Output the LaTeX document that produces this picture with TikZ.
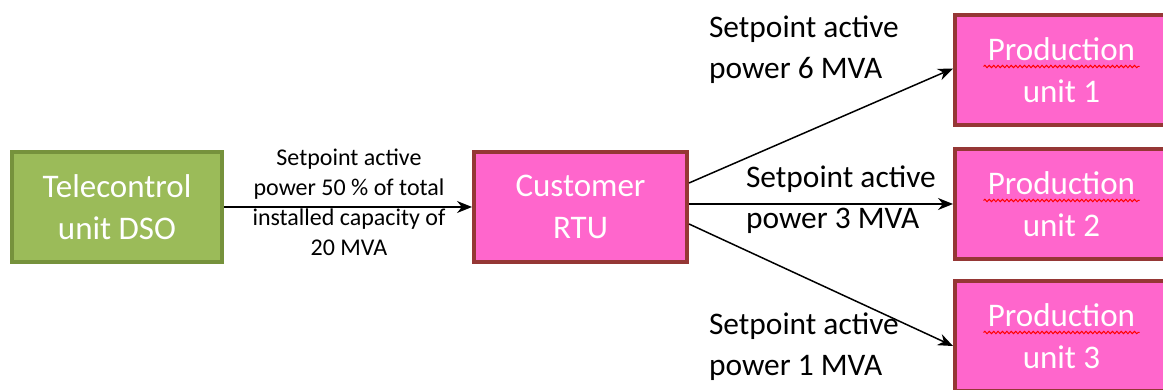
\documentclass[tikz,border=0pt]{standalone}
\usepackage{fontspec}
\setmainfont{Carlito}
\usetikzlibrary{arrows.meta,decorations.pathmorphing}

\definecolor{dsogreen}{HTML}{9BBB59}
\definecolor{dsogreenline}{HTML}{76923C}
\definecolor{unitpink}{HTML}{FF66CC}
\definecolor{unitline}{HTML}{953735}

\tikzset{
	box/.style={draw, line width=2pt, text=white, align=center,
		minimum height=55pt, font=\fontsize{16.5}{21}\selectfont},
	greenbox/.style={box, fill=dsogreen, draw=dsogreenline, minimum width=105pt},
	pinkbox/.style={box, fill=unitpink, draw=unitline, minimum width=106.5pt},
	signal/.style={-{Stealth[length=7.5pt,width=6pt]}, line width=0.75pt},
	setpoint/.style={align=left, font=\fontsize{15.7}{20.5}\selectfont},
	squiggle/.style={red, line width=0.5pt, decorate,
		decoration={snake, amplitude=0.6pt, segment length=2.2pt}}
}

\begin{document}
\begin{tikzpicture}[x=0.5pt,y=0.5pt]
					\useasboundingbox (0,0) rectangle (1163,390);
					
					%BOXES
					\node[greenbox] (dso) at (117,183) {Telecontrol\\unit DSO};
					\node[pinkbox] (rtu) at (580.5,183) {Customer\\RTU};
					\node[pinkbox] (p1) at (1061.5,319.5) {Production\\unit 1};
					\node[pinkbox] (p2) at (1061.5,185.5) {Production\\unit 2};
					\node[pinkbox] (p3) at (1061.5,53.5) {Production\\unit 3};
					\foreach \p in {p1,p2,p3}
						\draw[squiggle] ([xshift=-39pt,yshift=2pt]\p.center) -- ([xshift=39pt,yshift=2pt]\p.center);
					
					%ARROWS
					\draw[signal] (dso.east) -- (rtu.west);
					\draw[signal] ([yshift=12pt]rtu.east) -- ([yshift=1pt]p1.west);
					\draw[signal] ([yshift=1.5pt]rtu.east) -- ([yshift=1.5pt]rtu.east -| p2.west);
					\draw[signal] ([yshift=-8.5pt]rtu.east) -- ([yshift=-4.75pt]p3.west);
					
					%LABELS
					\node[align=center, font=\fontsize{12}{15}\selectfont] (mid) at (349,188)
						{Setpoint active\\power 50 \% of total\\installed capacity of\\20 MVA};
					\node[setpoint, anchor=west] (s1) at (702,340) {Setpoint active\\power 6 MVA};
					\node[setpoint, anchor=west] (s2) at (739,190) {Setpoint active\\power 3 MVA};
					\node[setpoint, anchor=west] (s3) at (702,43) {Setpoint active\\power 1 MVA};
				
				  \end{tikzpicture}
\end{document}
